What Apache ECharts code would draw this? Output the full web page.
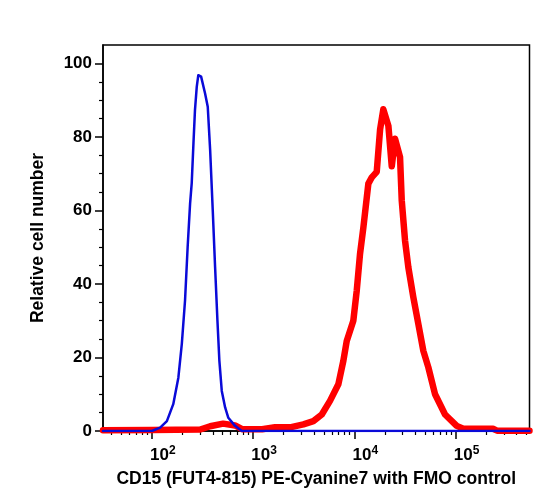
<!DOCTYPE html>
<html>
<head>
<meta charset="utf-8">
<script src="https://cdn.jsdelivr.net/npm/echarts@6/dist/echarts.min.js"></script>
<style>
  html, body { margin: 0; padding: 0; background: #fff; }
  #chart { width: 550px; height: 503px; }
</style>
</head>
<body>
<div id="chart"></div>
<script>
// 坐标轴范围 (荧光强度, 对数坐标)
var xMin = 33;
var xMax = 536000;
var xMajorTicks = [100, 1000, 10000, 100000];
var xMinorTicks = [40, 50, 60, 70, 80, 90,
  200, 300, 400, 500, 600, 700, 800, 900,
  2000, 3000, 4000, 5000, 6000, 7000, 8000, 9000,
  20000, 30000, 40000, 50000, 60000, 70000, 80000, 90000,
  200000, 300000, 400000, 500000];
var yTicks = [0, 20, 40, 60, 80, 100];

// FMO 对照 (蓝色)
var fmoX = [33, 100, 121, 141, 163, 183, 198, 213, 226, 239, 248, 258, 267, 278, 288,
  307, 336, 357, 377, 400, 422, 445, 465, 491, 530, 570, 664, 773, 536000];
var fmoY = [0, 0, 0.9, 2.7, 7.3, 14.5, 23.7, 35.5, 50, 61.9, 67.4, 78.3, 87.3, 93.6, 96.8,
  96.4, 91.8, 88.2, 76.4, 60, 44.5, 30, 19.1, 10.9, 6.4, 3.6, 1.4, 0, 0];

// CD15 染色 (红色)
var cd15X = [33, 100, 301, 377, 506, 664, 778, 1228, 1648, 2318, 3140, 3940, 4770, 5750,
  6950, 7790, 8410, 9770, 10560, 11380, 12280, 13750, 14860, 16630, 17950, 19330,
  21680, 23400, 25230, 28250, 29370, 31650, 34130, 38220, 42830, 47990, 53770,
  62640, 78600, 102500, 119200, 233900, 256400, 536000];
var cd15Y = [0.2, 0.3, 0.4, 1.3, 2.0, 1.5, 0.5, 0.5, 1.0, 1.0, 1.8, 2.7, 4.5, 8.2,
  12.7, 19.1, 24.5, 30, 38.2, 48.2, 55.4, 67.3, 69, 70.5, 82, 87.5,
  83, 72, 79.5, 74.5, 62.7, 51.8, 44.5, 36.4, 29.1, 21.8, 17.3,
  10, 4.5, 1.4, 0.6, 0.6, 0.1, 0.1];

function pairs(xs, ys) {
  return xs.map(function (x, i) { return [x, ys[i]]; });
}

var font = "'Liberation Sans', Arial, Helvetica, sans-serif";
var myChart = echarts.init(document.getElementById("chart"));
var option = {
  animation: false,
  backgroundColor: "#fff",
  grid: {
    left: 103,
    right: 20.5,
    top: 45,
    bottom: 72,
    show: true,
    borderColor: "#000",
    borderWidth: 1.5,
    backgroundColor: "transparent",
  },
  xAxis: [
    {
      type: "log",
      logBase: 10,
      min: xMin,
      max: xMax,
      position: "bottom",
      name: "CD15 (FUT4-815) PE-Cyanine7 with FMO control",
      nameLocation: "middle",
      nameGap: 39,
      nameTextStyle: { fontFamily: font, fontWeight: "bold", fontSize: 17.5, color: "#000" },
      axisLine: { onZero: false, lineStyle: { color: "#000", width: 1.5 } },
      axisTick: { customValues: xMajorTicks, length: 8, lineStyle: { color: "#000", width: 1.5 } },
      axisLabel: {
        customValues: xMajorTicks,
        margin: 14,
        padding: [0, 0, 0, 22],
        formatter: function (v) {
          return "{b|10}{e|" + Math.round(Math.log10(v)) + "}";
        },
        rich: {
          b: { fontFamily: font, fontWeight: "bold", fontSize: 17, color: "#000", lineHeight: 21 },
          e: { fontFamily: font, fontWeight: "bold", fontSize: 12, color: "#000", lineHeight: 12, verticalAlign: "top" },
        },
      },
      splitLine: { show: false },
    },
    {
      type: "log",
      logBase: 10,
      min: xMin,
      max: xMax,
      position: "bottom",
      axisLine: { show: false, onZero: false },
      axisTick: { customValues: xMinorTicks, length: 4, lineStyle: { color: "#000", width: 1.2 } },
      axisLabel: { show: false },
      splitLine: { show: false },
    },
  ],
  yAxis: {
    type: "value",
    min: 0,
    max: 105,
    interval: 20,
    name: "Relative cell number",
    nameLocation: "middle",
    nameGap: 56,
    nameTextStyle: { fontFamily: font, fontWeight: "bold", fontSize: 17.5, color: "#000" },
    axisLine: { show: true, lineStyle: { color: "#000", width: 1.5 } },
    axisTick: { customValues: yTicks, length: 8, lineStyle: { color: "#000", width: 1.5 } },
    minorTick: { show: true, splitNumber: 4, length: 4, lineStyle: { color: "#000", width: 1.2 } },
    axisLabel: {
      customValues: yTicks,
      margin: 11,
      fontFamily: font,
      fontWeight: "bold",
      fontSize: 17,
      color: "#000",
    },
    splitLine: { show: false },
  },
  series: [
    {
      name: "CD15",
      type: "line",
      xAxisIndex: 0,
      showSymbol: false,
      clip: true,
      lineStyle: { color: "#ff0000", width: 6.5, join: "round", cap: "round" },
      data: pairs(cd15X, cd15Y),
    },
    {
      name: "FMO",
      type: "line",
      xAxisIndex: 0,
      showSymbol: false,
      clip: true,
      lineStyle: { color: "#0a0ad8", width: 2.5, join: "round", cap: "round" },
      data: pairs(fmoX, fmoY),
    },
  ],
};
myChart.setOption(option);
</script>
</body>
</html>
